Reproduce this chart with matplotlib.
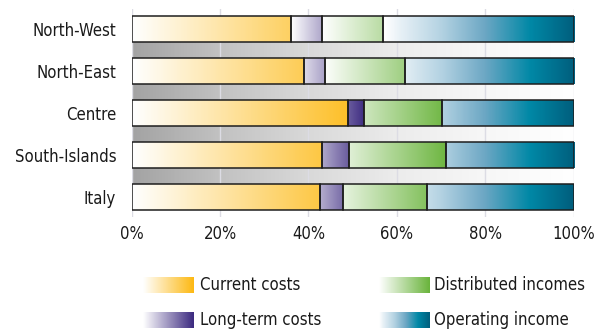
"""
Horizontal 100% stacked bars of cost / income shares by area, with gradient fills.
"""

import numpy as np
import matplotlib.pyplot as plt
from matplotlib.colors import LinearSegmentedColormap, Normalize

plt.rcParams["font.family"] = ["DejaVu Sans"]
plt.rcParams["font.stretch"] = "condensed"

regions = ["North-West", "North-East", "Centre", "South-Islands", "Italy"]
current_costs = [36.0, 38.9, 49.0, 43.0, 42.5]
long_term_costs = [7.0, 4.8, 3.6, 6.2, 5.4]
distributed_incomes = [13.8, 18.0, 17.6, 21.8, 18.9]
operating_income = [43.2, 38.3, 29.8, 29.0, 33.2]

series_names = ["Current costs", "Long-term costs", "Distributed incomes", "Operating income"]
series_values = [current_costs, long_term_costs, distributed_incomes, operating_income]
x_ticks = [0, 20, 40, 60, 80, 100]

# each fill fades from white to full colour over a fixed stretch of the x axis
gradients = [
    (0, 54, ["#ffffff", "#fdb913"]),
    (36, 53, ["#ffffff", "#3c2a80"]),
    (43, 72, ["#ffffff", "#6ab43c"]),
    (57, 100, [(0, "#ffffff"), (0.07, "#eaf2f7"), (0.30, "#b3d2e2"),
               (0.53, "#6ca7c4"), (0.77, "#0088a6"), (1, "#005f7e")]),
]
cmaps = [LinearSegmentedColormap.from_list(f"g{i}", c) for i, (_, _, c) in enumerate(gradients)]
shadow_cmap = LinearSegmentedColormap.from_list(
    "shadow", [(0, "#a3a3a3"), (0.2, "#c2c2c2"), (0.4, "#d9d9d9"),
               (0.6, "#ececec"), (0.8, "#f7f7f7"), (1, "#ffffff")])

fig = plt.figure(figsize=(5.94, 3.30), dpi=100)
ax = fig.add_axes([0.2214, 0.3424, 0.7449, 0.6303])

y = np.arange(len(regions))
bar_h = 0.62
xs = np.linspace(0, 100, 400)[None, :]

# grey bands filling the gaps between bars
for yi in y[:-1]:
    ax.imshow(xs, cmap=shadow_cmap, norm=Normalize(0, 100), aspect="auto",
              extent=(0, 100, yi + 1 - bar_h / 2, yi + bar_h / 2),
              interpolation="bilinear", zorder=0.5)

for t in x_ticks:
    ax.axvline(t, color="#dcdce4", lw=1, zorder=1)

left = np.zeros(len(regions))
for (lo, hi, _), cmap, vals in zip(gradients, cmaps, series_values):
    vals = np.asarray(vals)
    for yi, l, w in zip(y, left, vals):
        seg = np.linspace(l, l + w, 100)[None, :]
        ax.imshow(seg, cmap=cmap, norm=Normalize(lo, hi, clip=True), aspect="auto",
                  extent=(l, l + w, yi + bar_h / 2, yi - bar_h / 2),
                  interpolation="bilinear", zorder=2)
    ax.barh(y, vals, left=left, height=bar_h, facecolor="none",
            edgecolor="#1e1e1e", lw=1.1, zorder=3)
    left += vals

ax.set_xlim(0, 100)
ax.set_ylim(4.48, -0.48)
ax.set_xticks(x_ticks)
ax.set_xticklabels([f"{t}%" for t in x_ticks])
ax.set_yticks(y)
ax.set_yticklabels(regions)
ax.tick_params(length=0, labelsize=12, colors="#1a1a1a")
ax.tick_params(axis="x", pad=6)
ax.tick_params(axis="y", pad=11)
for s in ax.spines.values():
    s.set_visible(False)

# legend with gradient swatches
lax = fig.add_axes([0, 0, 1, 0.2], xlim=(0, 594), ylim=(330, 264))
lax.axis("off")
swatch_pos = [(143, 285, 200), (143, 320, 200), (379, 285, 434), (379, 320, 434)]
for (sx, sy, tx), cmap, name in zip(swatch_pos, cmaps, series_names):
    lax.imshow(np.linspace(0, 1, 100)[None, :], cmap=cmap, aspect="auto",
               extent=(sx, sx + 51, sy + 8, sy - 8), interpolation="bilinear")
    lax.text(tx, sy, name, va="center", ha="left", fontsize=12, color="#1a1a1a")
lax.set_xlim(0, 594)
lax.set_ylim(330, 264)

fig.savefig("out.png", dpi=100)
